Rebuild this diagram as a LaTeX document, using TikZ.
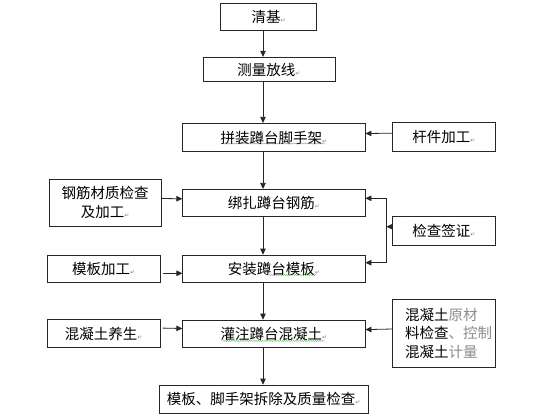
\documentclass[tikz,border=0pt]{standalone}
\usepackage{fontspec}
\setmainfont{Noto Sans CJK SC}
\newfontfamily\symfont{DejaVu Sans}
\usetikzlibrary{arrows.meta,calc,decorations.pathmorphing}
\newcommand\retmark{{\symfont\fontsize{6}{6}\selectfont\color{gray}↵}}
\tikzset{
  box/.style={draw=black!85, line width=0.8pt, inner sep=0pt, align=center,
    font=\fontsize{14.5}{19}\selectfont},
  arr/.style={draw=black!85, line width=0.8pt, -{Triangle[length=6pt,width=5.5pt]}},
  plain/.style={draw=black!85, line width=0.8pt},
  spell/.style={draw=green!55!black, line width=0.35pt, opacity=0.6,
    decorate, decoration={snake, amplitude=0.6pt, segment length=2.2pt}},
  faint/.style={color=black!45}
}
\begin{document}
\begin{tikzpicture}[x=1pt,y=-1pt]
\useasboundingbox (0,0) rectangle (560,420);
% main column
\node[box, minimum width=96pt, minimum height=27pt] (qj) at (268.7,16.5) {清基\retmark};
\node[box, minimum width=132pt, minimum height=24.5pt] (cl) at (269,69.5) {测量放线\retmark};
\node[box, minimum width=182.3pt, minimum height=28.4pt] (pz) at (273.9,137.5) {拼装蹲台脚手架\retmark};
\node[box, minimum width=182.3pt, minimum height=27.4pt] (bz) at (273.9,203) {绑扎蹲台钢筋\retmark};
\node[box, minimum width=182.3pt, minimum height=27.3pt] (az) at (273.9,268.7) {安装蹲台模板\retmark};
\node[box, minimum width=182.3pt, minimum height=27.7pt] (gz) at (273.9,333.9) {灌注蹲台混凝土\retmark};
\node[box, minimum width=208.7pt, minimum height=28.3pt] (mb) at (263.7,399.2) {模板、脚手架拆除及质量检查\retmark};
% left column
\node[box, minimum width=111.7pt, minimum height=46.7pt] (gj) at (105.2,202.7) {钢筋材质检查\\及加工\retmark};
\node[box, minimum width=112.7pt, minimum height=27.3pt] (mbjg) at (103.7,268.7) {模板加工\retmark};
\node[box, minimum width=112.7pt, minimum height=28.4pt] (hyt) at (103.7,333.5) {混凝土养生\retmark};
% right column
\node[box, minimum width=102.3pt, minimum height=29pt] (gjjg) at (443.9,137.2) {杆件加工\retmark};
\node[box, minimum width=102.3pt, minimum height=28.3pt] (jc) at (443.9,230.9) {检查签证\retmark};
\node[box, minimum width=102.3pt, minimum height=68pt] (hnt) at (443.9,333.3) {};
\node[inner sep=0pt, anchor=west, align=left, font=\fontsize{14.5}{18.3}\selectfont] (hntt) at (405,333.3)
  {混凝土{\color{black!45}原材}\\料检查{\color{black!45}、控制}\\混凝土{\color{black!45}计量}};
% spine
\coordinate (sp) at (263,0);
\draw[arr] (qj.south -| sp) -- (cl.north -| sp);
\draw[arr] (cl.south -| sp) -- (pz.north -| sp);
\draw[arr] (pz.south -| sp) -- (bz.north -| sp);
\draw[arr] (bz.south -| sp) -- (az.north -| sp);
\draw[arr] (az.south -| sp) -- (gz.north -| sp);
\draw[arr] (gz.south -| sp) -- (mb.north -| sp);
% left inputs
\draw[arr] ($(gj.east)+(0.5,-4.2)$) -- ($(bz.west)+(0,-4.2)$);
\draw[arr] ($(mbjg.east)+(2.5,4.6)$) -- ($(az.west)+(0,4.6)$);
\draw[arr] ($(hyt.east)+(2.5,-5.4)$) -- ($(gz.west)+(0,-5.4)$);
% right inputs
\draw[arr] ($(gjjg.west)+(0,-4)$) -- ($(pz.east)+(0,-4)$);
\draw[arr] ($(hnt.west)+(0.5,-4.3)$) -- ($(gz.east)+(0,-4.3)$);
% inspection loop
\coordinate (lt) at ($(bz.east)+(21,-4.7)$);
\coordinate (lb) at ($(az.east)+(21,-6)$);
\draw[plain] (lt) -- (lb);
\draw[arr] (lt) -- (lt -| bz.east);
\draw[arr] (lb) -- (lb -| az.east);
\draw[arr] ($(jc.west)+(0,-4.2)$) -- ($(jc.west -| lt)+(0,-4.2)$);
% spell-check marks
\draw[spell] ($(pz.center)+(-51.5,6)$) -- ($(pz.center)+(51,6)$);
\draw[spell] ($(az.center)+(-5.5,6.3)$) -- ($(az.center)+(42.5,6.3)$);
\draw[spell] ($(gz.center)+(-51.5,7)$) -- ($(gz.center)+(51,7)$);
\end{tikzpicture}
\end{document}
